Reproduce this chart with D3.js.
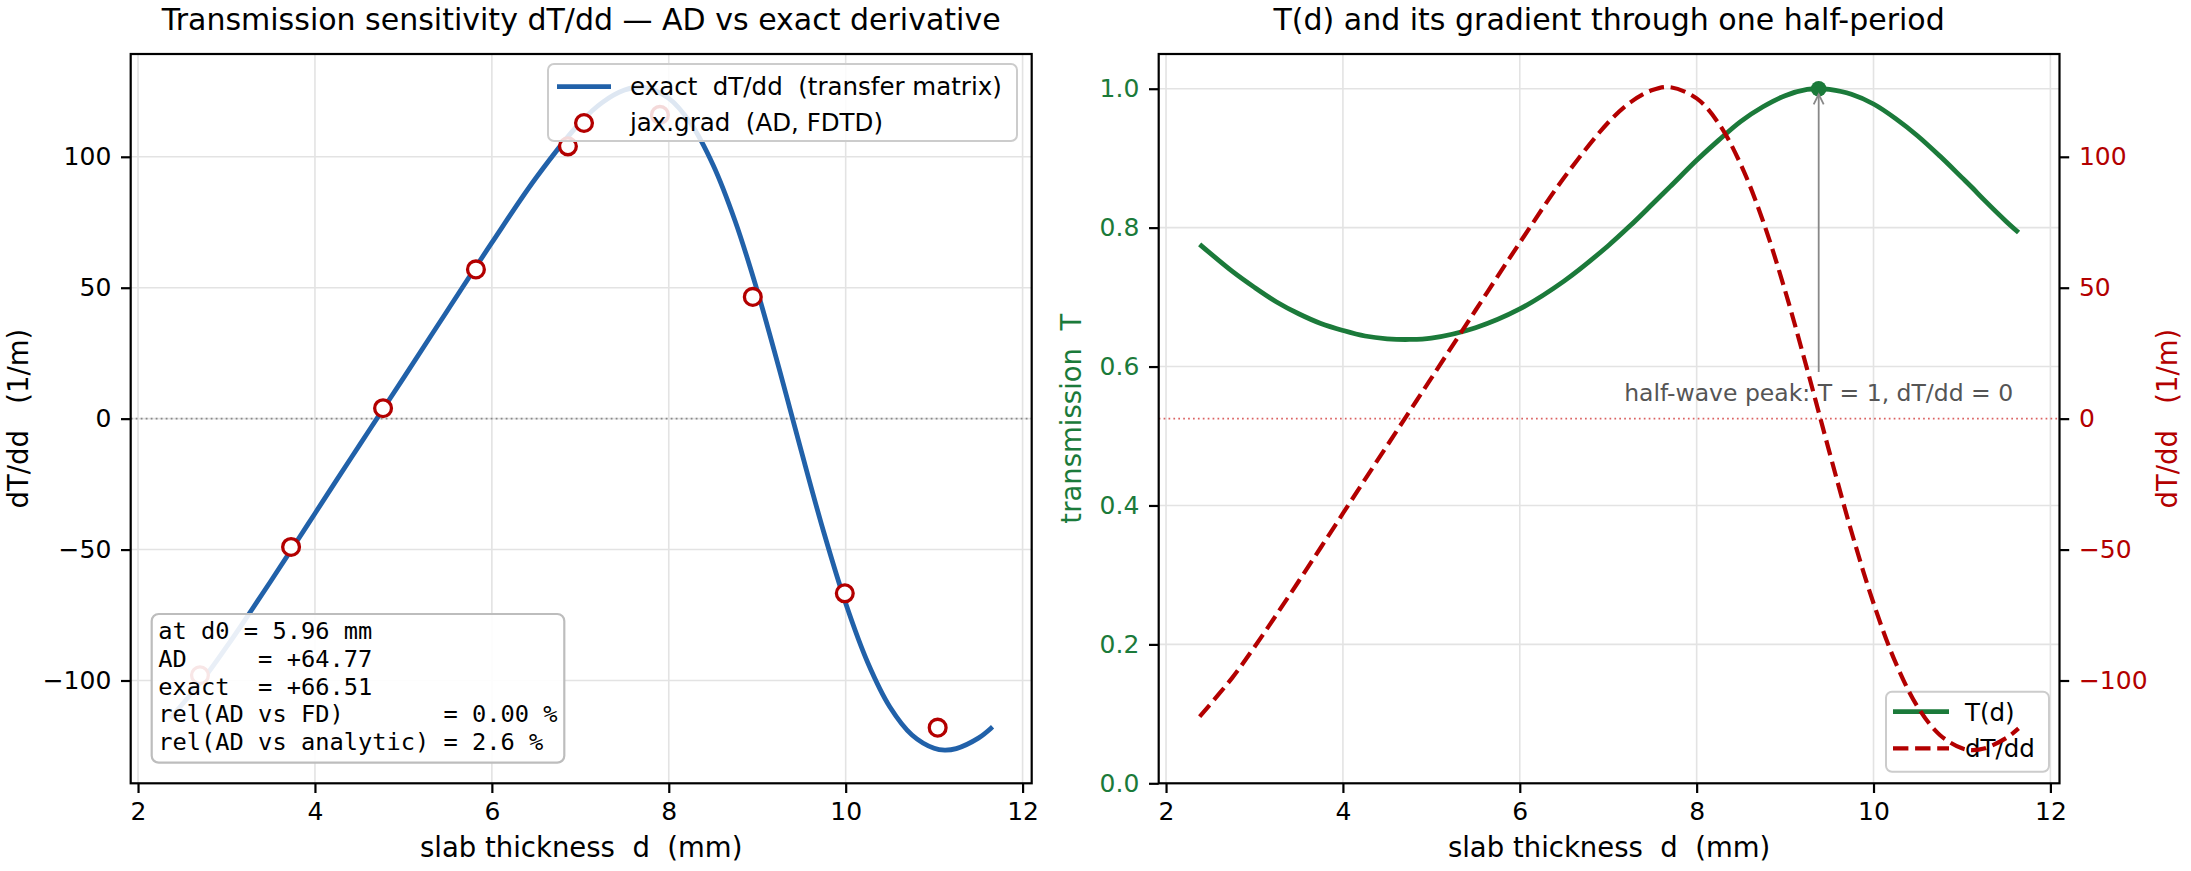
<!DOCTYPE html>
<html>
<head>
<meta charset="utf-8">
<script src="https://cdn.jsdelivr.net/npm/d3@7"></script>
<style>
  body { margin: 0; background: #fff; }
  text { font-family: "DejaVu Sans", sans-serif; }
</style>
</head>
<body>
<svg id="fig" width="2191" height="871"></svg>
<script>
// values
var thickness = [2.38, 2.75, 3.0, 3.25, 3.5, 3.75, 4.0, 4.25, 4.5, 4.75, 5.0, 5.5, 6.0, 6.5, 7.0, 7.25, 7.5, 7.7,
                 8.0, 8.25, 8.5, 8.75, 9.0, 9.25, 9.38, 9.5, 9.75, 10.0, 10.25, 10.5, 10.75, 11.0, 11.12, 11.25, 11.5, 11.64];
var transmission = [0.776, 0.737, 0.714, 0.693, 0.676, 0.662, 0.652, 0.644, 0.640, 0.639, 0.641, 0.656, 0.683, 0.723,
                    0.774, 0.803, 0.834, 0.859, 0.897, 0.926, 0.953, 0.974, 0.990, 0.999, 1.000, 0.999, 0.992, 0.978,
                    0.957, 0.932, 0.903, 0.872, 0.857, 0.840, 0.809, 0.793];
var dTdd = [-113.8, -98.9, -87.2, -74.8, -62.1, -49.2, -36.2, -23.2, -10.3, 2.6, 15.5, 41.4, 67.2, 92.0, 113.1, 120.8,
            125.5, 126.6, 122.3, 112.7, 97.0, 75.5, 48.9, 18.8, 2.5, -12.6, -43.1, -70.5, -93.2, -110.1, -120.8,
            -125.9, -126.6, -126.0, -122.0, -118.3];

// jax.grad samples
var adThickness = [2.70, 3.73, 4.77, 5.82, 6.86, 7.90, 8.95, 9.99, 11.04];
var adGrad = [-98.0, -49.0, 4.0, 57.0, 104.0, 116.0, 46.5, -66.7, -118.0];

var xTicks = [2, 4, 6, 8, 10, 12];
var gradTicks = [-100, -50, 0, 50, 100];
var tTicks = [0, 0.2, 0.4, 0.6, 0.8, 1.0];

var peakD = 9.38, peakT = 1.0;

var statLines = [
  "at d0 = 5.96 mm",
  "AD     = +64.77",
  "exact  = +66.51",
  "rel(AD vs FD)       = 0.00 %",
  "rel(AD vs analytic) = 2.6 %"
];

var blue = "#2161a9", green = "#1b7a3a", red = "#b30000", gridColor = "#e3e3e3";
var tickFont = 25, labelFont = 27.5, titleFont = 30, legendFont = 24.5;

var svg = d3.select("#fig");

var leftBox = { x0: 130.7, x1: 1031.7, y0: 54, y1: 783.3 };
var rightBox = { x0: 1158.7, x1: 2059.5, y0: 54, y1: 783.3 };

// matplotlib style 5% margins
function padded(ext) {
  var m = (ext[1] - ext[0]) * 0.05;
  return [ext[0] - m, ext[1] + m];
}

var xDomain = padded(d3.extent(thickness));
var gDomain = padded(d3.extent(dTdd));

var xL = d3.scaleLinear().domain(xDomain).range([leftBox.x0, leftBox.x1]);
var yL = d3.scaleLinear().domain(gDomain).range([leftBox.y1, leftBox.y0]);
var xR = d3.scaleLinear().domain(xDomain).range([rightBox.x0, rightBox.x1]);
var yT = d3.scaleLinear().domain([0, 1.05]).range([rightBox.y1, rightBox.y0]);
var yG = d3.scaleLinear().domain(gDomain).range([rightBox.y1, rightBox.y0]);

function styleAxis(g, color) {
  g.select(".domain").remove();
  g.selectAll(".tick line").attr("stroke", "#000").attr("stroke-width", 2.2);
  g.selectAll(".tick text")
    .attr("fill", color)
    .style("font-size", tickFont + "px")
    .style("font-family", "DejaVu Sans");
}

function drawGrid(g, x, y, yTicks, box) {
  g.selectAll("line.gx").data(xTicks).enter().append("line")
    .attr("x1", x).attr("x2", x)
    .attr("y1", box.y0).attr("y2", box.y1)
    .attr("stroke", gridColor).attr("stroke-width", 1.6);
  g.selectAll("line.gy").data(yTicks).enter().append("line")
    .attr("x1", box.x0).attr("x2", box.x1)
    .attr("y1", y).attr("y2", y)
    .attr("stroke", gridColor).attr("stroke-width", 1.6);
}

function spines(box) {
  svg.append("rect")
    .attr("x", box.x0).attr("y", box.y0)
    .attr("width", box.x1 - box.x0).attr("height", box.y1 - box.y0)
    .attr("fill", "none").attr("stroke", "#000").attr("stroke-width", 2.2);
}

function title(box, txt) {
  svg.append("text")
    .attr("x", (box.x0 + box.x1) / 2).attr("y", 30)
    .attr("text-anchor", "middle")
    .style("font-size", titleFont + "px")
    .text(txt);
}

function xAxis(x, box) {
  svg.append("g")
    .attr("transform", "translate(0," + box.y1 + ")")
    .call(d3.axisBottom(x).tickValues(xTicks).tickSize(9.7).tickPadding(9.7).tickFormat(d3.format("d")))
    .call(styleAxis, "#000");
  svg.append("text")
    .attr("x", (box.x0 + box.x1) / 2).attr("y", 857)
    .attr("text-anchor", "middle")
    .style("font-size", labelFont + "px")
    .style("white-space", "pre")
    .text("slab thickness  d  (mm)");
}

function yLabel(x, cy, txt, color) {
  svg.append("text")
    .attr("transform", "translate(" + x + "," + cy + ") rotate(-90)")
    .attr("text-anchor", "middle")
    .attr("fill", color)
    .style("font-size", labelFont + "px")
    .style("white-space", "pre")
    .text(txt);
}

var line = function (x, y, vals) {
  return d3.line()
    .x(function (d, i) { return x(thickness[i]); })
    .y(function (d) { return y(d); })
    .curve(d3.curveCatmullRom.alpha(0.5))(vals);
};

/* ---------------- left panel ---------------- */
var gl = svg.append("g");
drawGrid(gl, xL, yL, gradTicks, leftBox);

gl.append("line")
  .attr("x1", leftBox.x0).attr("x2", leftBox.x1)
  .attr("y1", yL(0)).attr("y2", yL(0))
  .attr("stroke", "#888").attr("stroke-width", 1.8)
  .attr("stroke-dasharray", "1.8,3.2");

gl.append("path")
  .attr("d", line(xL, yL, dTdd))
  .attr("fill", "none").attr("stroke", blue).attr("stroke-width", 4.8)
  .attr("stroke-linecap", "square");

gl.selectAll("circle.ad").data(adGrad).enter().append("circle")
  .attr("cx", function (d, i) { return xL(adThickness[i]); })
  .attr("cy", function (d) { return yL(d); })
  .attr("r", 8.4)
  .attr("fill", "#fff").attr("stroke", red).attr("stroke-width", 3.3);

// stats box
var sb = svg.append("g");
sb.append("rect")
  .attr("x", 151.7).attr("y", 614).attr("width", 412.6).attr("height", 148.7)
  .attr("rx", 7)
  .attr("fill", "#fff").attr("fill-opacity", 0.9)
  .attr("stroke", "#bdbdbd").attr("stroke-width", 2.2);
sb.selectAll("text").data(statLines).enter().append("text")
  .attr("x", 158.3)
  .attr("y", function (d, i) { return 639 + i * 27.8; })
  .style("font-family", "DejaVu Sans Mono")
  .style("font-size", "23.7px")
  .style("white-space", "pre")
  .text(function (d) { return d; });

// legend
var lg = svg.append("g");
lg.append("rect")
  .attr("x", 548).attr("y", 64).attr("width", 469).attr("height", 77).attr("rx", 6)
  .attr("fill", "#fff").attr("fill-opacity", 0.85)
  .attr("stroke", "#cccccc").attr("stroke-width", 2);
lg.append("line").attr("x1", 557).attr("x2", 611).attr("y1", 86.6).attr("y2", 86.6)
  .attr("stroke", blue).attr("stroke-width", 4.8);
lg.append("circle").attr("cx", 584).attr("cy", 123).attr("r", 8.4)
  .attr("fill", "#fff").attr("stroke", red).attr("stroke-width", 3.3);
lg.selectAll("text").data(["exact  dT/dd  (transfer matrix)", "jax.grad  (AD, FDTD)"]).enter().append("text")
  .attr("x", 630).attr("y", function (d, i) { return 95 + i * 36.4; })
  .style("font-size", legendFont + "px")
  .style("white-space", "pre")
  .text(function (d) { return d; });

svg.append("g")
  .attr("transform", "translate(" + leftBox.x0 + ",0)")
  .call(d3.axisLeft(yL).tickValues(gradTicks).tickSize(9.7).tickPadding(9.7).tickFormat(d3.format("d")))
  .call(styleAxis, "#000");
xAxis(xL, leftBox);
yLabel(28, (leftBox.y0 + leftBox.y1) / 2, "dT/dd   (1/m)", "#000");
spines(leftBox);
title(leftBox, "Transmission sensitivity dT/dd \u2014 AD vs exact derivative");

/* ---------------- right panel ---------------- */
var gr = svg.append("g");
drawGrid(gr, xR, yT, tTicks.slice(1), rightBox);

gr.append("path")
  .attr("d", line(xR, yT, transmission))
  .attr("fill", "none").attr("stroke", green).attr("stroke-width", 4.8);

gr.append("circle")
  .attr("cx", xR(peakD)).attr("cy", yT(peakT)).attr("r", 7.8)
  .attr("fill", green);

// annotation
var annY = 401;
gr.append("text")
  .attr("x", xR(peakD)).attr("y", annY)
  .attr("text-anchor", "middle")
  .attr("fill", "#555")
  .style("font-size", "23.5px")
  .text("half-wave peak: T = 1, dT/dd = 0");
var tipY = yT(peakT) + 5.6;
gr.append("path")
  .attr("d", "M" + xR(peakD) + "," + (annY - 29) + "L" + xR(peakD) + "," + tipY)
  .attr("stroke", "#888").attr("stroke-width", 1.8).attr("fill", "none");
gr.append("path")
  .attr("d", "M" + (xR(peakD) - 5) + "," + (tipY + 10) + "L" + xR(peakD) + "," + tipY + "L" + (xR(peakD) + 5) + "," + (tipY + 10))
  .attr("stroke", "#888").attr("stroke-width", 1.8).attr("fill", "none");

// legend (belongs to the T axis, drawn under the twin axis)
var lg2 = svg.append("g");
lg2.append("rect")
  .attr("x", 1886).attr("y", 691.7).attr("width", 163).attr("height", 80).attr("rx", 6)
  .attr("fill", "#fff").attr("fill-opacity", 0.85)
  .attr("stroke", "#cccccc").attr("stroke-width", 2);
lg2.append("line").attr("x1", 1893).attr("x2", 1949).attr("y1", 711.7).attr("y2", 711.7)
  .attr("stroke", green).attr("stroke-width", 4.8);
lg2.append("line").attr("x1", 1893).attr("x2", 1949).attr("y1", 748.3).attr("y2", 748.3)
  .attr("stroke", red).attr("stroke-width", 4.2).attr("stroke-dasharray", "15.4,6.7");
lg2.selectAll("text").data(["T(d)", "dT/dd"]).enter().append("text")
  .attr("x", 1965).attr("y", function (d, i) { return 720.5 + i * 36.6; })
  .style("font-size", legendFont + "px")
  .text(function (d) { return d; });

// twin axis content
var g2 = svg.append("g");
g2.append("line")
  .attr("x1", rightBox.x0).attr("x2", rightBox.x1)
  .attr("y1", yG(0)).attr("y2", yG(0))
  .attr("stroke", "#cc2020").attr("stroke-opacity", 0.7).attr("stroke-width", 1.7)
  .attr("stroke-dasharray", "1.7,3.2");
g2.append("path")
  .attr("d", line(xR, yG, dTdd))
  .attr("fill", "none").attr("stroke", red).attr("stroke-width", 4.2)
  .attr("stroke-dasharray", "15.4,6.7");

svg.append("g")
  .attr("transform", "translate(" + rightBox.x0 + ",0)")
  .call(d3.axisLeft(yT).tickValues(tTicks).tickSize(9.7).tickPadding(9.7).tickFormat(d3.format(".1f")))
  .call(styleAxis, green);
svg.append("g")
  .attr("transform", "translate(" + rightBox.x1 + ",0)")
  .call(d3.axisRight(yG).tickValues(gradTicks).tickSize(9.7).tickPadding(9.7).tickFormat(d3.format("d")))
  .call(styleAxis, red);
xAxis(xR, rightBox);
yLabel(1081, (rightBox.y0 + rightBox.y1) / 2, "transmission  T", green);
yLabel(2177, (rightBox.y0 + rightBox.y1) / 2, "dT/dd   (1/m)", red);
spines(rightBox);
title(rightBox, "T(d) and its gradient through one half-period");
</script>
</body>
</html>
